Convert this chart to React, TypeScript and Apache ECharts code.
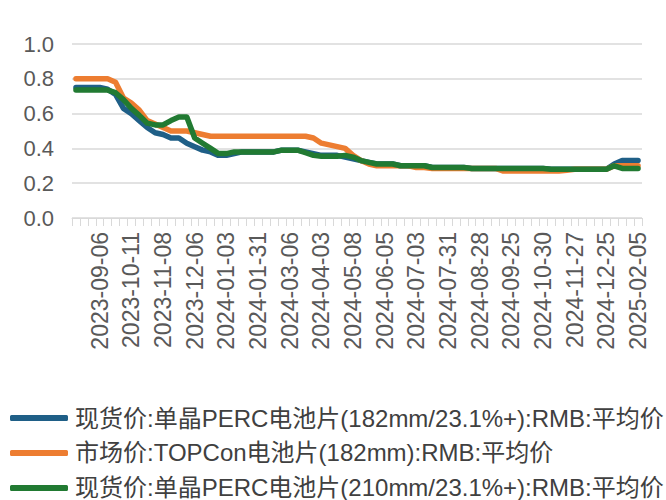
import React, { useEffect, useRef } from "react";
import * as echarts from "echarts";

const dates: string[] = [
  "2023-08-16", "2023-08-23", "2023-08-30", "2023-09-06", "2023-09-13", "2023-09-20", "2023-09-27", "2023-10-11",
  "2023-10-18", "2023-10-25", "2023-11-01", "2023-11-08", "2023-11-15", "2023-11-22", "2023-11-29", "2023-12-06",
  "2023-12-13", "2023-12-20", "2023-12-27", "2024-01-03", "2024-01-10", "2024-01-17", "2024-01-24", "2024-01-31",
  "2024-02-07", "2024-02-21", "2024-02-28", "2024-03-06", "2024-03-13", "2024-03-20", "2024-03-27", "2024-04-03",
  "2024-04-10", "2024-04-17", "2024-04-24", "2024-05-08", "2024-05-15", "2024-05-22", "2024-05-29", "2024-06-05",
  "2024-06-12", "2024-06-19", "2024-06-26", "2024-07-03", "2024-07-10", "2024-07-17", "2024-07-24", "2024-07-31",
  "2024-08-07", "2024-08-14", "2024-08-21", "2024-08-28", "2024-09-04", "2024-09-11", "2024-09-18", "2024-09-25",
  "2024-10-09", "2024-10-16", "2024-10-23", "2024-10-30", "2024-11-06", "2024-11-13", "2024-11-20", "2024-11-27",
  "2024-12-04", "2024-12-11", "2024-12-18", "2024-12-25", "2025-01-08", "2025-01-15", "2025-01-22", "2025-02-05",
];

const perc182: number[] = [
  0.75, 0.75, 0.75, 0.75, 0.74, 0.71, 0.63, 0.60, 0.56, 0.52, 0.49, 0.48, 0.46, 0.46, 0.43, 0.41,
  0.39, 0.38, 0.36, 0.36, 0.37, 0.38, 0.38, 0.38, 0.38, 0.38, 0.39, 0.39, 0.39, 0.38, 0.37, 0.36,
  0.36, 0.36, 0.35, 0.34, 0.33, 0.32, 0.31, 0.31, 0.31, 0.30, 0.30, 0.30, 0.30, 0.29, 0.29, 0.29,
  0.29, 0.29, 0.285, 0.285, 0.285, 0.285, 0.285, 0.285, 0.285, 0.285, 0.285, 0.285, 0.28, 0.28, 0.28, 0.28,
  0.28, 0.28, 0.28, 0.28, 0.31, 0.33, 0.33, 0.33,
];

const topcon182: number[] = [
  0.80, 0.80, 0.80, 0.80, 0.80, 0.78, 0.69, 0.66, 0.62, 0.56, 0.54, 0.52, 0.50, 0.50, 0.50, 0.49,
  0.48, 0.47, 0.47, 0.47, 0.47, 0.47, 0.47, 0.47, 0.47, 0.47, 0.47, 0.47, 0.47, 0.47, 0.46, 0.43,
  0.42, 0.41, 0.40, 0.36, 0.33, 0.31, 0.30, 0.30, 0.30, 0.30, 0.30, 0.29, 0.29, 0.285, 0.285, 0.285,
  0.285, 0.285, 0.285, 0.285, 0.285, 0.285, 0.27, 0.27, 0.27, 0.27, 0.27, 0.27, 0.27, 0.27, 0.275, 0.28,
  0.28, 0.28, 0.28, 0.28, 0.30, 0.30, 0.30, 0.30,
];

const perc210: number[] = [
  0.735, 0.735, 0.735, 0.735, 0.735, 0.72, 0.68, 0.63, 0.59, 0.545, 0.535, 0.535, 0.56, 0.58, 0.58, 0.46,
  0.43, 0.40, 0.37, 0.37, 0.38, 0.38, 0.38, 0.38, 0.38, 0.38, 0.39, 0.39, 0.39, 0.375, 0.36, 0.355,
  0.355, 0.355, 0.36, 0.35, 0.33, 0.32, 0.31, 0.31, 0.31, 0.30, 0.30, 0.30, 0.30, 0.29, 0.29, 0.29,
  0.29, 0.29, 0.285, 0.285, 0.285, 0.285, 0.285, 0.285, 0.285, 0.285, 0.285, 0.285, 0.28, 0.28, 0.28, 0.28,
  0.28, 0.28, 0.28, 0.28, 0.30, 0.285, 0.285, 0.285,
];

const seriesNames: string[] = [
  "现货价:单晶PERC电池片(182mm/23.1%+):RMB:平均价",
  "市场价:TOPCon电池片(182mm):RMB:平均价",
  "现货价:单晶PERC电池片(210mm/23.1%+):RMB:平均价",
];

const colors: string[] = ["#1f5f87", "#ed7d31", "#217a32"];

const FONT = "'Liberation Sans', Arial, 'Noto Sans CJK SC', sans-serif";

export default function App() {
  const ref = useRef<HTMLDivElement>(null);
  useEffect(() => {
    if (!ref.current) return;
    const chart = echarts.init(ref.current, undefined, { renderer: "svg" });
    const values = [perc182, topcon182, perc210];
    chart.setOption({
      animation: false,
      backgroundColor: "#ffffff",
      color: colors,
      grid: { left: 72, right: 24, top: 44, bottom: 282, containLabel: false },
      legend: {
        orient: "vertical",
        left: 10,
        top: 406,
        padding: 0,
        itemWidth: 58,
        itemHeight: 6,
        itemGap: 11,
        icon: "roundRect",
        data: seriesNames,
        textStyle: { fontFamily: FONT, fontSize: 24, color: "#404040", padding: [0, 0, 0, 2] },
      },
      xAxis: {
        type: "category",
        data: dates,
        boundaryGap: true,
        axisLine: { show: true, lineStyle: { color: "#d9d9d9", width: 1 } },
        axisTick: { show: true, interval: 0, length: 8, lineStyle: { color: "#d9d9d9" } },
        axisLabel: {
          interval: (i: number) => i % 4 === 3,
          rotate: 90,
          margin: 14,
          fontFamily: FONT,
          fontSize: 23,
          color: "#595959",
        },
        splitLine: { show: false },
      },
      yAxis: {
        type: "value",
        min: 0,
        max: 1,
        interval: 0.2,
        axisLine: { show: false },
        axisTick: { show: false },
        axisLabel: {
          formatter: (v: number) => v.toFixed(1),
          margin: 18,
          fontFamily: FONT,
          fontSize: 22,
          color: "#595959",
        },
        splitLine: { show: true, lineStyle: { color: "#d9d9d9", width: 1.5 } },
      },
      series: seriesNames.map((name, k) => ({
        name,
        type: "line",
        data: values[k],
        symbol: "none",
        lineStyle: { width: 5.5, color: colors[k], cap: "round", join: "round" },
        itemStyle: { color: colors[k] },
        z: 2 + k,
      })),
    });
    return () => chart.dispose();
  }, []);
  return (
    <div
      ref={ref}
      style={{ position: "fixed", left: 0, top: 0, width: 666, height: 500, background: "#fff" }}
    />
  );
}
